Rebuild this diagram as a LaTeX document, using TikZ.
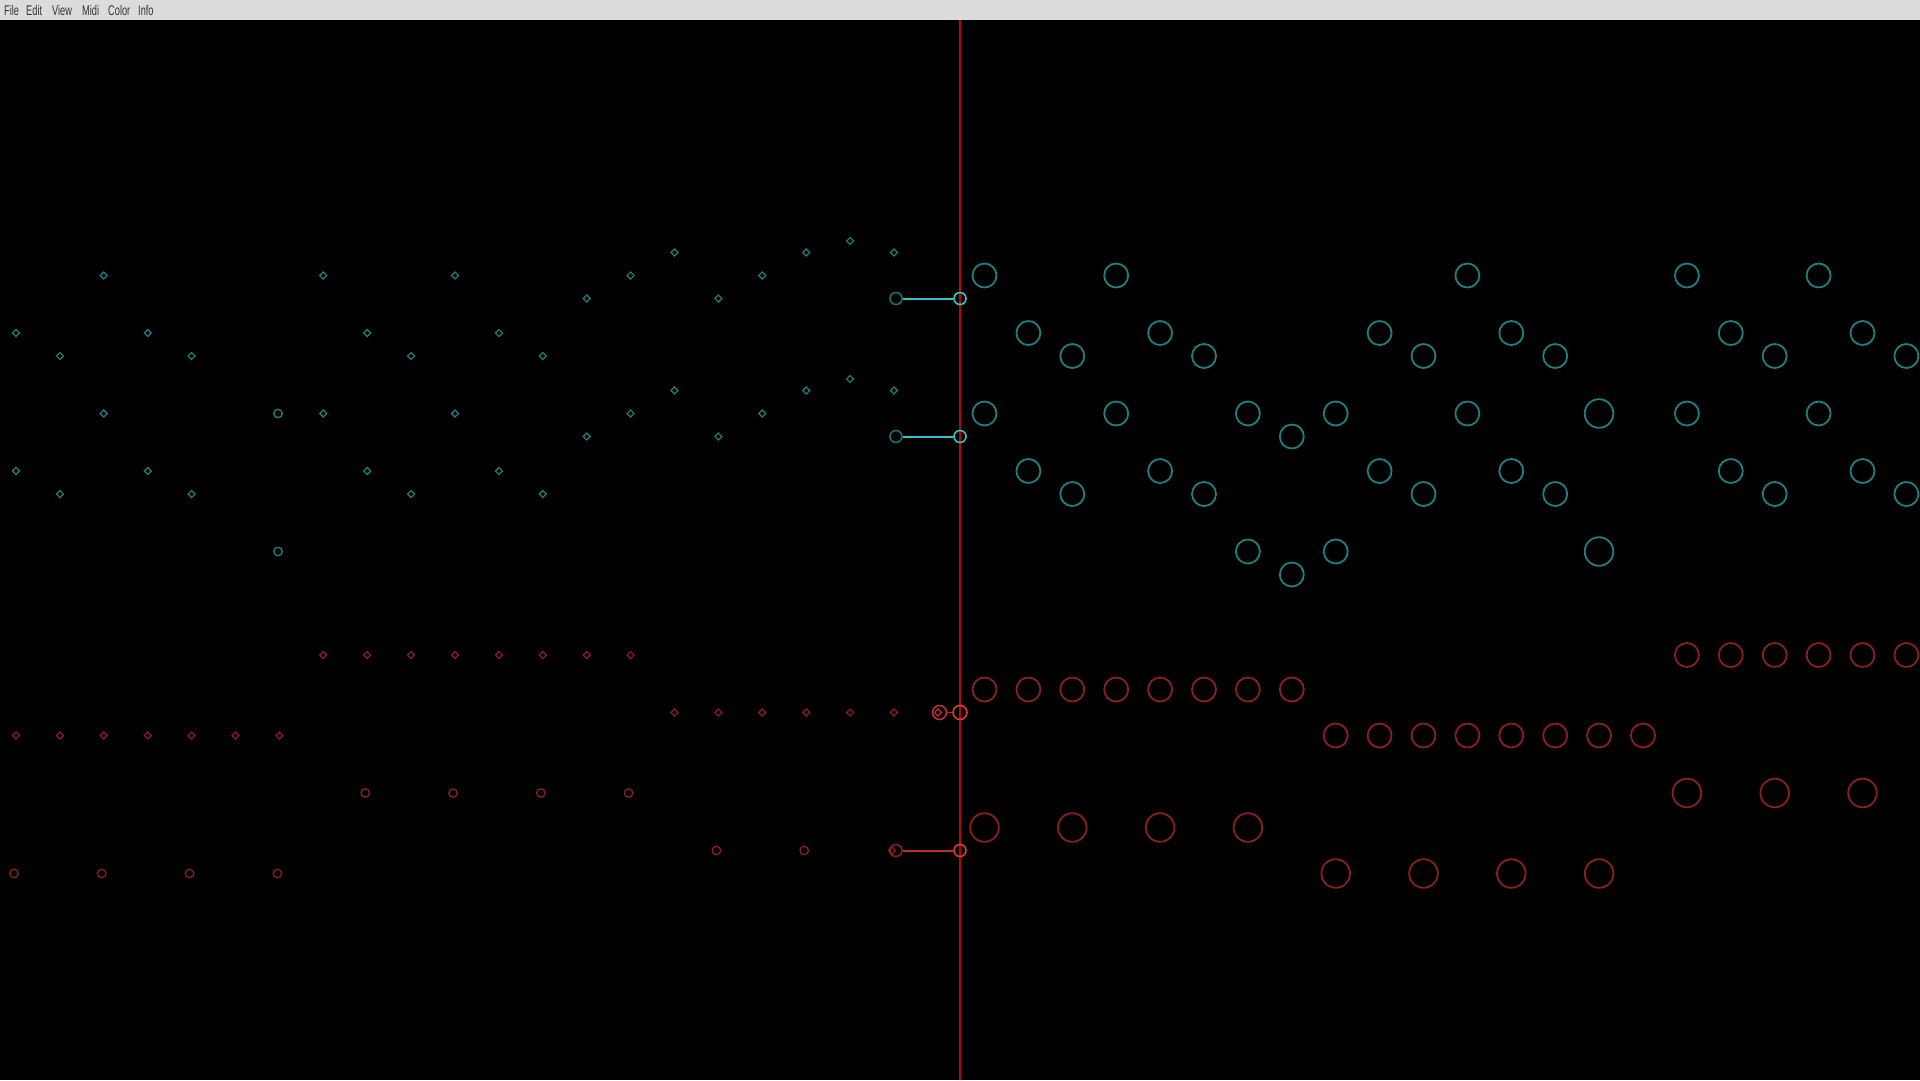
\documentclass[tikz,border=0pt]{standalone}
\usepackage{fontspec}
\newfontfamily\menufont[FakeStretch=0.66]{Liberation Sans}
\usepackage{tikz}
\usetikzlibrary{shapes.geometric}
\definecolor{tealdim}{RGB}{30,128,128}
\definecolor{tealtie}{RGB}{30,112,112}
\definecolor{tealhi}{RGB}{56,196,196}
\definecolor{reddim}{RGB}{140,32,32}
\definecolor{redmid}{RGB}{186,48,48}
\definecolor{redhi}{RGB}{222,58,58}
\definecolor{cursor}{RGB}{178,8,8}
\definecolor{menubg}{RGB}{220,220,220}

\begin{document}
\begin{tikzpicture}[x=1pt, y=-1pt,
    past/.style={diamond, draw, line width=1.2, minimum size=7.5, inner sep=0, aspect=1},
    pastlong/.style={circle, draw, line width=1.3, minimum size=8.5, inner sep=0},
    head/.style={circle, draw, line width=1.8, minimum size=24, inner sep=0},
    headlong/.style={head, minimum size=28.6},
    tie/.style={circle, draw, line width=1.6, minimum size=12, inner sep=0},
    menuitem/.style={anchor=base west, inner sep=0, text=black!80,
      font=\menufont\fontsize{14}{14}\selectfont}]
  \fill[black] (0,0) rectangle (1920,1080);
  \useasboundingbox (0,0) rectangle (1920,1080);
  \fill[menubg] (0,0) rectangle (1920,20);
  \foreach \w/\x in {File/4, Edit/26, View/52, Midi/82, Color/108, Info/138}
    \node[menuitem] (menu\w) at (\x,15) {\w};
  \coordinate (cursortop) at (960,20);
  \coordinate (cursorbot) at (960,1080);
  \draw[cursor, line width=2] (cursortop) -- (cursorbot);
  % left side: notes already played
  \foreach \r/\js in {0/{19}, 1/{15,18,20}, 3/{2,7,10,14,17}, 5/{13,16},
      8/{0,3,8,11}, 10/{1,4,9,12}, 12/{19}, 13/{15,18,20}, 15/{2,7,10,14,17},
      17/{13,16}, 20/{0,3,8,11}, 22/{1,4,9,12}}
    \foreach \j in \js
      \node[past, tealdim] (c\j-\r) at ({16+43.9*\j}, {241+11.5*\r}) {};
  \node[pastlong, tealdim] (cl6-15) at (278,413.5) {};
  \node[pastlong, tealdim] (cl6-27) at (278,551.5) {};
  \foreach \r/\js in {36/{7,8,9,10,11,12,13,14}, 41/{15,16,17,18,19,20},
      43/{0,1,2,3,4,5,6}}
    \foreach \j in \js
      \node[past, reddim] (r\j-\r) at ({16+43.9*\j}, {241+11.5*\r}) {};
  \foreach \r/\js in {48/{8,10,12,14}, 53/{16,18}, 55/{0,2,4,6}}
    \foreach \j in \js
      \node[pastlong, reddim] (rl\j-\r) at ({14+43.9*\j}, {241+11.5*\r}) {};
  % right side: notes to come
  \foreach \r/\ks in {3/{0,3,11,16,19}, 8/{1,4,9,12,17,20}, 10/{2,5,10,13,18,21},
      15/{0,3,6,8,11,16,19}, 17/{7}, 20/{1,4,9,12,17,20},
      22/{2,5,10,13,18,21}, 27/{6,8}, 29/{7}}
    \foreach \k in \ks
      \node[head, tealdim] (C\k-\r) at ({984.5+43.9*\k}, {241+11.5*\r}) {};
  \node[headlong, tealdim] (C14-15) at (1599,413.5) {};
  \node[headlong, tealdim] (C14-27) at (1599,551.5) {};
  \foreach \r/\ks in {36/{16,17,18,19,20,21}, 39/{0,1,2,3,4,5,6,7},
      43/{8,9,10,11,12,13,14,15}}
    \foreach \k in \ks
      \node[head, reddim] (R\k-\r) at ({984.5+43.9*\k}, {241+11.5*\r}) {};
  \foreach \r/\ks in {48/{16,18,20}, 51/{0,2,4,6}, 55/{8,10,12,14}}
    \foreach \k in \ks
      \node[headlong, reddim] (R\k-\r) at ({984.5+43.9*\k}, {241+11.5*\r}) {};
  % notes sounding at the cursor
  \node[tie, tealtie] (tieA) at (896,298.5) {};
  \node[tie, tealhi] (nowA) at (960,298.5) {};
  \draw[tealhi, line width=2] (tieA) -- (nowA);
  \node[tie, tealtie] (tieB) at (896,436.5) {};
  \node[tie, tealhi] (nowB) at (960,436.5) {};
  \draw[tealhi, line width=2] (tieB) -- (nowB);
  \node[past, redmid] (r21-41) at (938,712.5) {};
  \node[tie, redmid, minimum size=14] (tieC) at (939.5,712.5) {};
  \node[tie, redhi, minimum size=14] (nowC) at (960,712.5) {};
  \draw[redmid, line width=1.6] (tieC) -- (nowC);
  \node[past, reddim] (r20-53) at (892,850.5) {};
  \node[tie, reddim] (tieD) at (896,850.5) {};
  \node[tie, redhi] (nowD) at (960,850.5) {};
  \draw[redmid, line width=2] (tieD) -- (nowD);
\end{tikzpicture}
\end{document}
